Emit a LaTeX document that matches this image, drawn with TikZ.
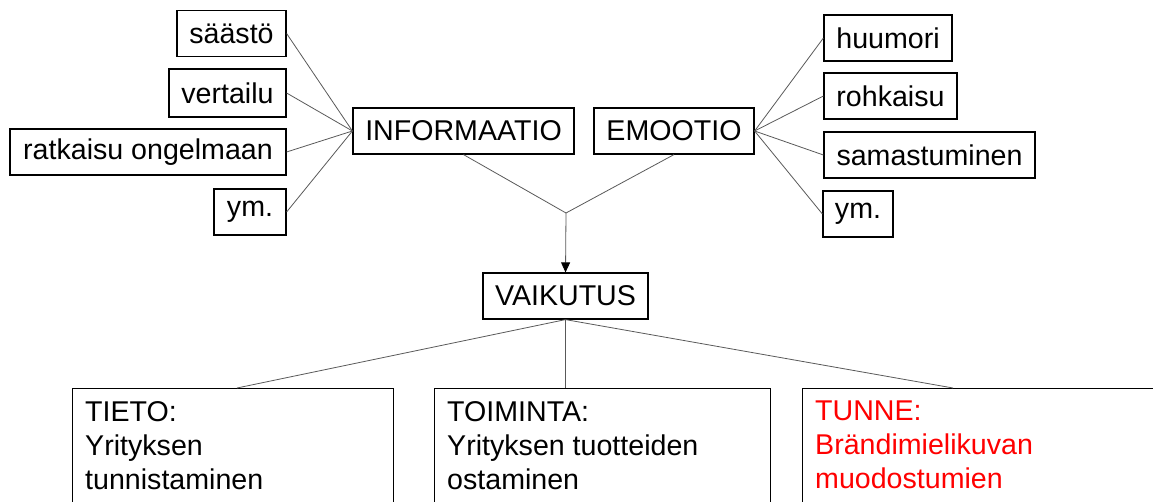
\documentclass[tikz,border=0pt]{standalone}
\usepackage{fontspec}
\setmainfont{Liberation Sans}
\usetikzlibrary{arrows.meta}
\begin{document}
\begin{tikzpicture}[x=1pt,y=-1pt,
  box/.style={draw=black, line width=1.2pt, minimum height=46pt, inner sep=0pt, font=\fontsize{28.6}{34}\selectfont, anchor=center},
  bigbox/.style={draw=black, line width=1.2pt, anchor=north west, minimum height=160pt, inner sep=0pt},
  bigtext/.style={anchor=north west, inner sep=0pt, align=left, font=\fontsize{28.6}{34}\selectfont},
  link/.style={draw=black!65, line width=0.8pt},
  ]
\useasboundingbox (0,0) rectangle (1153,502);
% left group
\node[box, minimum width=109pt] (s1) at (231.5,33.5) {säästö};
\node[box, minimum width=117pt, minimum height=48pt] (s2) at (227.5,93) {vertailu};
\node[box, minimum width=276pt] (s3) at (148,152) {ratkaisu ongelmaan};
\node[box, minimum width=72pt] (s4) at (250,212) {ym.};
\node[box, minimum width=221pt] (info) at (463.5,131) {INFORMAATIO};
\node[box, minimum width=160pt] (emo) at (674,131) {EMOOTIO};
% right group
\node[box, minimum width=128pt] (h1) at (888,38) {huumori};
\node[box, minimum width=133pt] (h2) at (890.5,96) {rohkaisu};
\node[box, minimum width=211pt] (h3) at (929.5,155) {samastuminen};
\node[box, minimum width=70pt] (h4) at (858,214) {ym.};
% middle
\node[box, minimum width=165pt] (vaik) at (565.5,296) {VAIKUTUS};
% bottom boxes
\node[bigbox, minimum width=321pt] (tieto) at (72,388) {};
\node[bigbox, minimum width=336pt] (toim) at (434,388) {};
\node[bigbox, minimum width=360pt] (tunne) at (802,388) {};
\node[bigtext] (tietot) at (85,401) {TIETO:\\Yrityksen\\tunnistaminen};
\node[bigtext] (toimt) at (447,401) {TOIMINTA:\\Yrityksen tuotteiden\\ostaminen};
\node[bigtext, text=red] (tunnet) at (815,401) {TUNNE:\\Brändimielikuvan\\muodostumien};
% connectors
\foreach \n in {s1,s2,s3,s4} \draw[link] (\n.east) -- (info.west);
\foreach \n in {h1,h2,h3,h4} \draw[link] (emo.east) -- (\n.west);
\coordinate (j) at (566,213);
\draw[link] (info.south) -- (j) -- (emo.south);
\draw[link, -{Triangle[width=9pt,length=10pt,color=black]}] (j) -- (vaik.north);
\coordinate (c1) at (237,388);
\coordinate (c2) at (565.5,388);
\coordinate (c3) at (953,388);
\draw[link] (vaik.south) -- (c1);
\draw[link] (vaik.south) -- (c2);
\draw[link] (vaik.south) -- (c3);
\end{tikzpicture}
\end{document}
